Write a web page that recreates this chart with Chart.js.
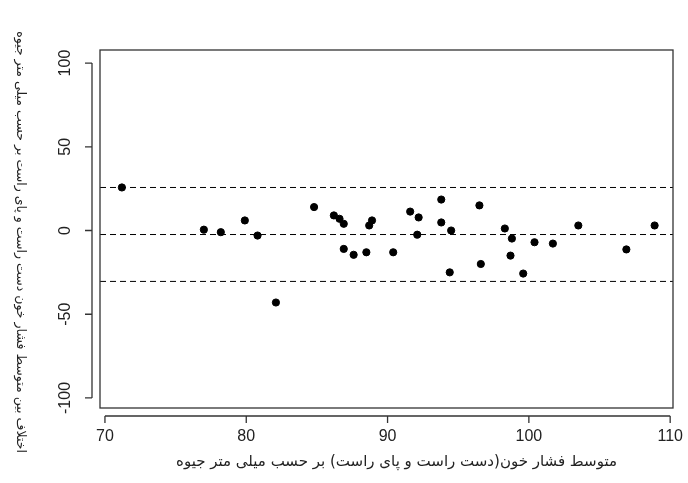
<!DOCTYPE html>
<html><head><meta charset="utf-8">
<script src="https://cdn.jsdelivr.net/npm/chart.js@4"></script>
<style>html,body{margin:0;background:#fff}#w{width:688px;height:483px}</style>
</head><body><div id="w"><canvas id="c"></canvas></div>
<script>
const meanBP=[71.2,77.0,78.2,79.9,80.8,82.1,84.8,86.2,86.6,86.9,86.9,87.6,88.5,88.7,88.9,90.4,91.6,92.2,92.1,93.8,93.8,94.5,94.4,96.5,96.6,98.3,98.8,98.7,99.6,100.4,101.7,103.5,106.9,108.9];
const diffBP=[25.7,0.5,-1,6,-3,-43,14,9,7,4,-11,-14.5,-13,3,6,-13,11.3,7.8,-2.5,4.8,18.5,0,-25,15,-20,1.2,-4.8,-15,-25.7,-7,-7.8,3,-11.3,3];
const limits=[25.7,-2.4,-30.4];
const xTicks=[70,80,90,100,110];
const yTicks=[-100,-50,0,50,100];
const xTitle='متوسط فشار خون(دست راست و پای راست) بر حسب میلی متر جیوه';
const yTitle='اختلاف بین متوسط فشار خون دست راست و پای راست بر حسب میلی متر جیوه';
const XMIN=69.65,XMAX=110.2,YMIN=-106,YMAX=107.8;
const ds=[{type:'scatter',data:meanBP.map((x,i)=>({x,y:diffBP[i]})),backgroundColor:'#000',borderColor:'#000',pointRadius:3.6}];
limits.forEach(v=>ds.push({type:'line',data:[{x:XMIN,y:v},{x:XMAX,y:v}],borderColor:'#000',borderWidth:1,borderDash:[6,4],pointRadius:0}));
const axes={id:'axes',afterDraw(ch){
 const c=ch.ctx,a=ch.chartArea,xs=ch.scales.x,ys=ch.scales.y;
 c.save();c.strokeStyle='#333';c.lineWidth=1.3;c.fillStyle='#222';
 c.strokeRect(a.left,a.top,a.right-a.left,a.bottom-a.top);
 c.font='16px "Liberation Sans"';c.textAlign='center';c.textBaseline='top';
 c.beginPath();c.moveTo(xs.getPixelForValue(xTicks[0]),a.bottom+8);c.lineTo(xs.getPixelForValue(xTicks[xTicks.length-1]),a.bottom+8);
 xTicks.forEach(t=>{const p=xs.getPixelForValue(t);c.moveTo(p,a.bottom+8);c.lineTo(p,a.bottom+15);});
 c.moveTo(a.left-8,ys.getPixelForValue(yTicks[0]));c.lineTo(a.left-8,ys.getPixelForValue(yTicks[yTicks.length-1]));
 yTicks.forEach(t=>{const p=ys.getPixelForValue(t);c.moveTo(a.left-8,p);c.lineTo(a.left-15,p);});
 c.stroke();
 xTicks.forEach(t=>c.fillText(String(t),xs.getPixelForValue(t),a.bottom+21));
 yTicks.forEach(t=>{const p=ys.getPixelForValue(t);c.save();c.translate(a.left-34,p);c.rotate(-Math.PI/2);c.textBaseline='middle';c.fillText(String(t),0,0);c.restore();});
 c.font='15px "DejaVu Sans"';
 c.fillText(xTitle,(a.left+a.right)/2+10,a.bottom+47);
 c.font='12.5px "DejaVu Sans"';
 c.save();c.translate(20,(a.top+a.bottom)/2+13);c.rotate(Math.PI/2);c.textBaseline='middle';c.fillText(yTitle,0,0);c.restore();
 c.restore();}};
new Chart(document.getElementById('c'),{data:{datasets:ds},plugins:[axes],
 options:{responsive:true,maintainAspectRatio:false,animation:false,
  layout:{padding:{left:100,top:50,right:15,bottom:75}},
  plugins:{legend:{display:false},tooltip:{enabled:false}},
  scales:{x:{type:'linear',min:XMIN,max:XMAX,display:false},y:{min:YMIN,max:YMAX,display:false}}}});
</script></body></html>
